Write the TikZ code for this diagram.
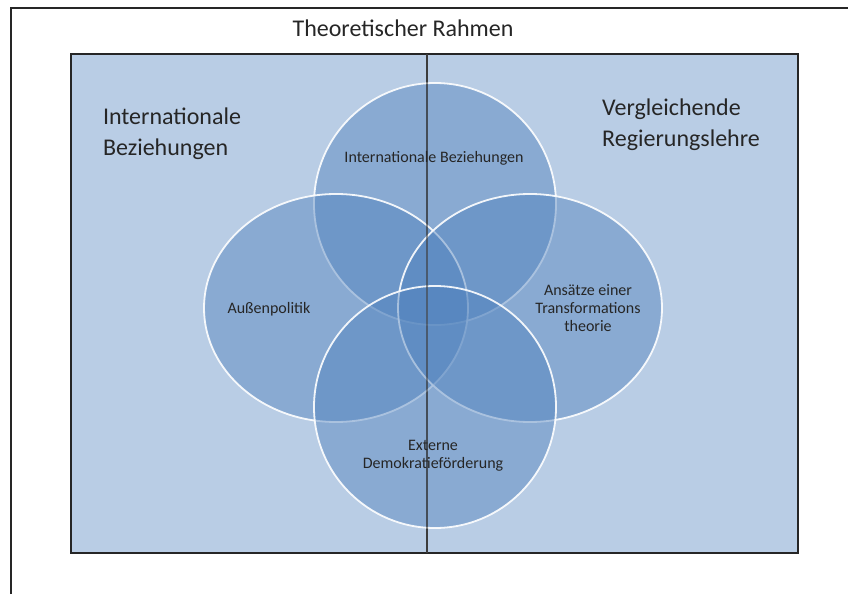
\documentclass[tikz,border=0pt]{standalone}
\usepackage{fontspec}
\setmainfont{Carlito}
\usetikzlibrary{positioning}
\definecolor{rahmenblau}{RGB}{185,205,229}
\definecolor{kreisblau}{RGB}{79,129,189}
\tikzset{
  kreis/.style={fill=kreisblau, fill opacity=0.45, draw=white, draw opacity=0.9, line width=1.8pt},
  feld/.style={align=left, font=\fontsize{24}{31}\selectfont, text=black!85},
  klein/.style={align=center, font=\fontsize{16}{18}\selectfont, text=black!85}
}
\begin{document}
\begin{tikzpicture}[x=1pt,y=-1pt]
\useasboundingbox (0,0) rectangle (848,594);
% outer frame
\draw[line width=1.4pt, draw=black!85] (11,594) -- (11,8) -- (848,8);
\node[font=\fontsize{24}{28}\selectfont, text=black!85] (titel) at (403,28) {Theoretischer Rahmen};

% inner frame
\draw[fill=rahmenblau, line width=1.6pt, draw=black!85] (71,54) rectangle (798,553);
\draw[line width=1.6pt, draw=black!85] (427,54) -- (427,553);

% circles
\path[kreis] (435,204) ellipse (121 and 121);
\path[kreis] (336,308) ellipse (132 and 114);
\path[kreis] (530,308) ellipse (132 and 114);
\path[kreis] (435,407) ellipse (121 and 121);
\draw[line width=1.2pt, draw=black!70, opacity=0.6] (427,54) -- (427,553);

% labels
\node[feld] (ib) at (172,134) {Internationale\\Beziehungen};
\node[feld] (vr) at (681,125) {Vergleichende\\Regierungslehre};
\node[klein] (k1) at (434,158) {Internationale Beziehungen};
\node[klein] (k2) at (269,309) {Außenpolitik};
\node[klein] (k3) at (588,308) {Ansätze einer\\Transformations\\theorie};
\node[klein] (k4) at (433,456) {Externe\\Demokratieförderung};
\end{tikzpicture}
\end{document}
